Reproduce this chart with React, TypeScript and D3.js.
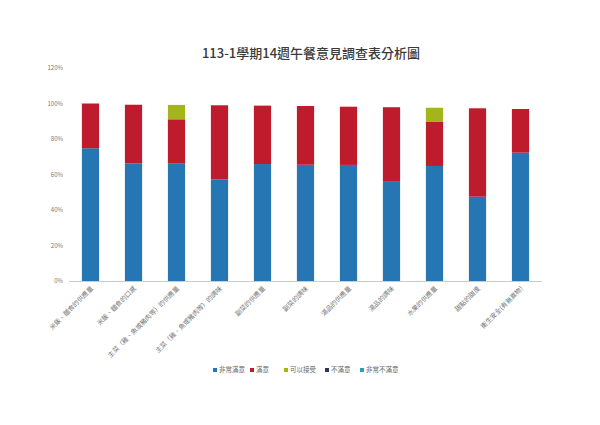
import React from "react";
import * as d3 from "d3";

const categories = [
  "米飯、麵食的供應量",
  "米飯、麵食的口感",
  "主菜（雞、魚或豬肉等）的供應量",
  "主菜（雞、魚或豬肉等）的調味",
  "副菜的供應量",
  "副菜的調味",
  "湯品的供應量",
  "湯品的調味",
  "水果的供應量",
  "甜點的甜度",
  "衛生安全(有無異物)",
];
const seriesNames = ["非常滿意", "滿意", "可以接受", "不滿意", "非常不滿意"];
const verySatisfied = [74.8, 66.3, 66.1, 57.3, 65.9, 65.5, 65.4, 55.9, 64.8, 47.5, 72.3];
const satisfied = [25.2, 33.0, 25.0, 41.7, 32.9, 33.1, 32.8, 42.0, 24.8, 49.8, 24.6];
const acceptable = [0, 0, 8.1, 0, 0, 0, 0, 0, 8.0, 0, 0];
const unsatisfied = [0, 0, 0, 0, 0, 0, 0, 0, 0, 0, 0];
const veryUnsatisfied = [0, 0, 0, 0, 0, 0, 0, 0, 0, 0, 0];
const yTicks = [0, 20, 40, 60, 80, 100, 120];
const title = "113-1學期14週午餐意見調查表分析圖";

const colors = ["#2676b4", "#be1c2c", "#a4b41c", "#33335e", "#2a9fb8"];

export default function App() {
  const W = 600, H = 425;
  const x0 = 69, x1 = 542, yTop = 68, yBot = 281;
  const x = d3.scaleBand<string>().domain(categories).range([x0, x1]).paddingInner(0.6).paddingOuter(0.3);
  const y = d3.scaleLinear().domain([0, 120]).range([yBot, yTop]);
  const rows = categories.map((c, i) => ({
    cat: c,
    s0: verySatisfied[i], s1: satisfied[i], s2: acceptable[i], s3: unsatisfied[i], s4: veryUnsatisfied[i],
  }));
  const stack = d3.stack<any>().keys(["s0", "s1", "s2", "s3", "s4"])(rows);
  const font = "'Noto Sans CJK TC', 'Noto Sans', sans-serif";
  const legendX = [213, 250, 284, 325, 360];
  return (
    <svg width={W} height={H} style={{ position: "absolute", left: 0, top: 0, background: "#fff" }} fontFamily={font}>
      <rect x={0} y={0} width={W} height={H} fill="#fff" />
      <text x={311} y={58} textAnchor="middle" fontSize={13} fontWeight={500} fill="#3a3a3a">{title}</text>
      {yTicks.map((t) => (
        <text key={t} x={63} y={y(t) + 2} textAnchor="end" fontSize={6} fill="#777">{t}%</text>
      ))}
      <line x1={x0} x2={x1} y1={yBot + 0.5} y2={yBot + 0.5} stroke="#ccc" strokeWidth={1} />
      {stack.map((layer, li) => (
        <g key={li} fill={colors[li]}>
          {layer.map((d, i) => (
            d[1] - d[0] > 0 ? (
              <rect key={i} x={x(categories[i])} y={y(d[1])} width={x.bandwidth()} height={y(d[0]) - y(d[1])} />
            ) : null
          ))}
        </g>
      ))}
      {categories.map((c) => {
        const cx = (x(c) as number) + x.bandwidth() / 2 + 3;
        return (
          <text key={c} transform={`translate(${cx},${yBot + 8}) rotate(-45)`} textAnchor="end" fontSize={6.5} fill="#777">{c}</text>
        );
      })}
      {seriesNames.map((s, i) => (
        <g key={s} transform={`translate(${legendX[i]},372)`}>
          <rect x={0} y={-4} width={4} height={4} fill={colors[i]} />
          <text x={6} y={0} fontSize={6.5} fill="#666">{s}</text>
        </g>
      ))}
    </svg>
  );
}
